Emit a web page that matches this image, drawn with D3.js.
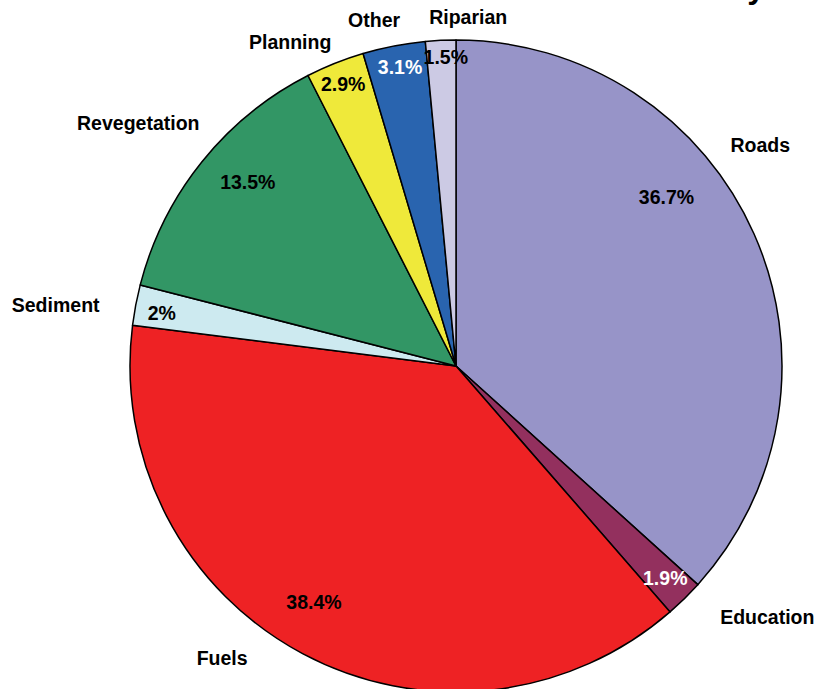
<!DOCTYPE html>
<html>
<head>
<meta charset="utf-8">
<script src="https://cdn.jsdelivr.net/npm/d3@7"></script>
<style>
  body { margin: 0; background: #fff; }
  text { font-family: "Liberation Sans", Arial, sans-serif; font-weight: bold; }
</style>
</head>
<body>
<svg id="chartSvg"></svg>
<script>
// data, clockwise from 12 o'clock
let categories = ['Roads', 'Education', 'Fuels', 'Sediment', 'Revegetation', 'Planning', 'Other', 'Riparian']
let shares = [36.7, 1.9, 38.4, 2, 13.5, 2.9, 3.1, 1.5]
let pctLabels = ['36.7%', '1.9%', '38.4%', '2%', '13.5%', '2.9%', '3.1%', '1.5%']

let colors = ['#9794c8', '#93305e', '#ee2224', '#cdeaf0', '#329665', '#efe93a', '#2964af', '#cccae4']
let pctColors = ['#000', '#fff', '#000', '#000', '#000', '#000', '#fff', '#000']

// label placement: [angle in degrees clockwise from top, distance from centre]
let pctPlace = [[51.2, 270], [135.4, 298], [211.1, 275], [280.2, 299], [311.5, 278], [338.2, 304], [349.4, 304], [358.1, 309]]
let namePlace = [[54.0, 376], [128.9, 400], [218.7, 374], [278.7, 405], [307.4, 400], [332.9, 364], [346.7, 356], [2.0, 349]]

let width = 817
let height = 689
let cx = 456
let cy = 366
let radius = 326

const svg = d3.select('#chartSvg')
    .attr('width', width)
    .attr('height', height)

// title sits above the frame, only the tail of its last letter shows
svg.append('text')
    .attr('x', 765)
    .attr('y', -2)
    .attr('text-anchor', 'end')
    .attr('font-size', 32)
    .text('Activity')

const g = svg.append('g')
    .attr('transform', `translate(${cx},${cy})`)

let pie = d3.pie().sort(null).value(d => d)
let arcs = pie(shares)
let arc = d3.arc().innerRadius(0).outerRadius(radius)

g.selectAll('.slice').data(arcs)
    .enter()
    .append('path')
    .attr('class', 'slice')
    .attr('d', arc)
    .attr('fill', (d, i) => colors[i])
    .attr('stroke', '#000')
    .attr('stroke-width', 1.5)
    .attr('stroke-linejoin', 'round')

function polar(p) {
    let a = p[0] * Math.PI / 180
    return [Math.sin(a) * p[1], -Math.cos(a) * p[1]]
}

g.selectAll('.pct').data(arcs)
    .enter()
    .append('text')
    .attr('class', 'pct')
    .attr('transform', (d, i) => `translate(${polar(pctPlace[i])})`)
    .attr('text-anchor', 'middle')
    .attr('dy', '0.36em')
    .attr('font-size', 19.5)
    .attr('fill', (d, i) => pctColors[i])
    .text((d, i) => pctLabels[i])

g.selectAll('.name').data(arcs)
    .enter()
    .append('text')
    .attr('class', 'name')
    .attr('transform', (d, i) => `translate(${polar(namePlace[i])})`)
    .attr('text-anchor', 'middle')
    .attr('dy', '0.36em')
    .attr('font-size', 19.5)
    .attr('fill', '#000')
    .text((d, i) => categories[i])
</script>
</body>
</html>
